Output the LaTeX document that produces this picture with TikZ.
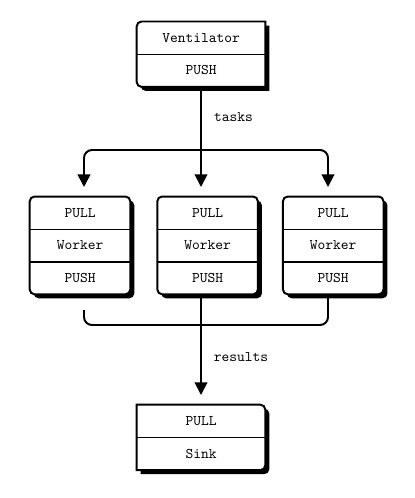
\documentclass[tikz,border=0pt]{standalone}
\usetikzlibrary{arrows.meta,shadows,backgrounds}

\tikzset{
  cell/.style={minimum width=2.5cm, minimum height=0.81cm, inner sep=0pt, font=\ttfamily\fontsize{10.5}{12.6}\selectfont},
  wide/.style={cell, minimum width=3.2cm},
  box/.style={draw, fill=white, line width=1.4pt, drop shadow={shadow xshift=0.1cm, shadow yshift=-0.1cm, opacity=1, fill=black}},
  split/.style={line width=1pt},
  wire/.style={line width=1.4pt},
  flow/.style={wire, -{Triangle[length=9pt,width=9pt]}},
  lbl/.style={font=\ttfamily\fontsize{10.5}{12.6}\selectfont},
}

\begin{document}
\begin{tikzpicture}

\useasboundingbox (0,0) rectangle (10.375,-12.45);

% -- ventilator
\node[wide] (vent) at (5.025,-0.95) {Ventilator};
\node[wide] (ventpush) at (5.025,-1.76) {PUSH};

% -- workers
\node[cell] (w1pull) at (2.0,-5.325) {PULL};
\node[cell] (w1) at (2.0,-6.135) {Worker};
\node[cell] (w1push) at (2.0,-6.945) {PUSH};

\node[cell] (w2pull) at (5.19,-5.325) {PULL};
\node[cell] (w2) at (5.19,-6.135) {Worker};
\node[cell] (w2push) at (5.19,-6.945) {PUSH};

\node[cell] (w3pull) at (8.33,-5.325) {PULL};
\node[cell] (w3) at (8.33,-6.135) {Worker};
\node[cell] (w3push) at (8.33,-6.945) {PUSH};

% -- sink
\node[wide] (sinkpull) at (5.025,-10.53) {PULL};
\node[wide] (sink) at (5.025,-11.34) {Sink};

% -- boxes
\begin{scope}[on background layer]
\draw[box] (ventpush.south) [rounded corners=0.12cm] -- (ventpush.south west) -- (vent.north west)
  [sharp corners] -- (vent.north east) -- (ventpush.south east) [rounded corners=0.12cm] -- cycle;
\draw[box, rounded corners=0.12cm] (w1pull.north west) rectangle (w1push.south east);
\draw[box, rounded corners=0.12cm] (w2pull.north west) rectangle (w2push.south east);
\draw[box, rounded corners=0.12cm] (w3pull.north west) rectangle (w3push.south east);
\draw[box] (sink.south) -- (sink.south west) -- (sinkpull.north west)
  [rounded corners=0.12cm] -- (sinkpull.north east) -- (sink.south east) [sharp corners] -- cycle;
\end{scope}

\draw[split] (vent.south west) -- (vent.south east);
\draw[split] (w1pull.south west) -- (w1pull.south east);
\draw[split] (w1.south west) -- (w1.south east);
\draw[split] (w2pull.south west) -- (w2pull.south east);
\draw[split] (w2.south west) -- (w2.south east);
\draw[split] (w3pull.south west) -- (w3pull.south east);
\draw[split] (w3.south west) -- (w3.south east);
\draw[split] (sinkpull.south west) -- (sinkpull.south east);

% -- connectors
\coordinate (fork) at (5.025,-3.75);
\coordinate (in1) at (2.1,-4.675);
\coordinate (in2) at (5.025,-4.675);
\coordinate (in3) at (8.2,-4.675);
\coordinate (out1) at (2.1,-7.75);
\coordinate (join) at (5.025,-8.125);
\coordinate (sinkin) at (5.025,-9.875);

\draw[flow] (ventpush.south) -- (in2);
\draw[flow, rounded corners=0.2cm] (fork) -| (in1);
\draw[flow, rounded corners=0.2cm] (fork) -| (in3);

\draw[wire, rounded corners=0.2cm] (out1) |- (join) -| (in3 |- w3push.south);
\draw[flow] (join |- w2push.south) -- (sinkin);

\node[lbl] (tasks) at (5.84,-2.92) {tasks};
\node[lbl] (results) at (6.025,-8.925) {results};
\end{tikzpicture}
\end{document}
